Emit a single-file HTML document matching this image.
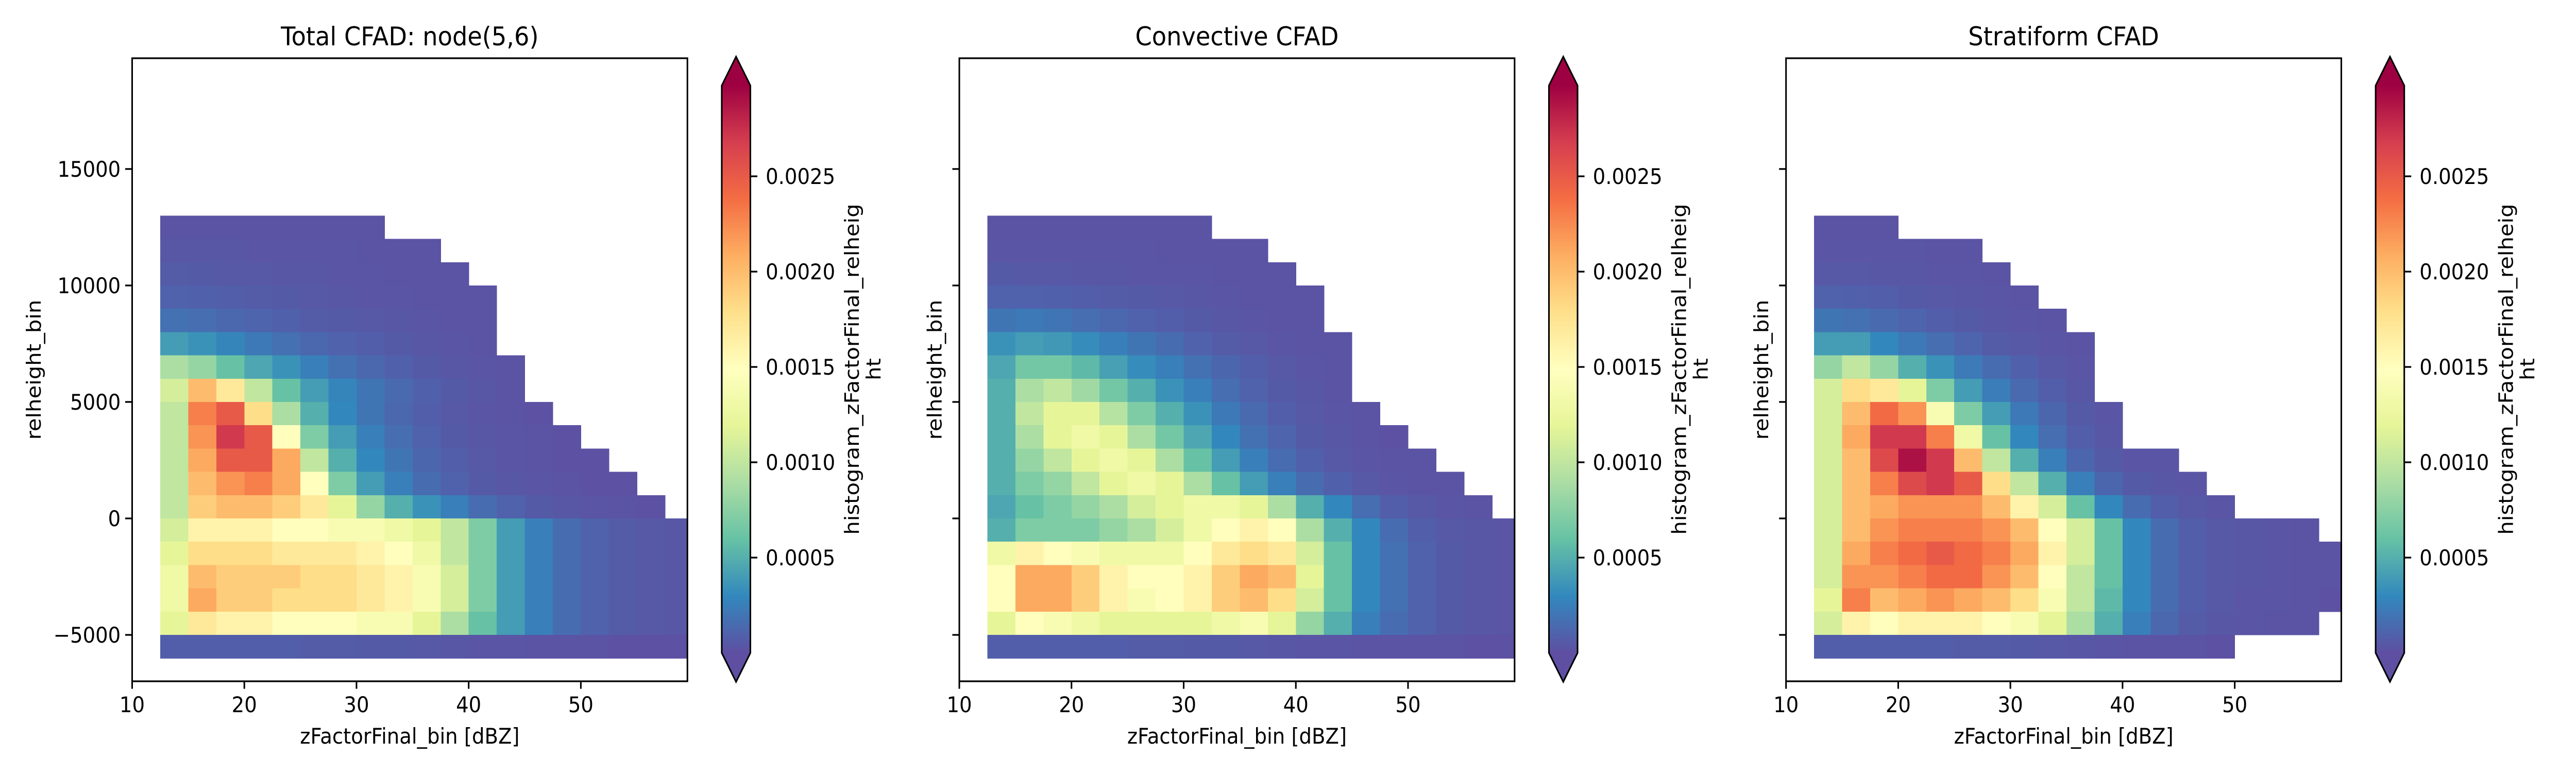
<!DOCTYPE html>
<html><head><meta charset="utf-8"><title>CFAD</title>
<style>
html,body{margin:0;padding:0;background:#fff;width:100%;height:100%;overflow:hidden;}
svg{display:block;overflow:hidden;width:100vw;height:100vh;font-family:"DejaVu Sans","Liberation Sans",sans-serif;}
</style></head>
<body>
<svg id="fig" viewBox="0 0 5400 1500" preserveAspectRatio="none" xmlns="http://www.w3.org/2000/svg">
<rect x="0" y="0" width="5400" height="1500" fill="#fff"/>
</svg>
<script>
// ---- data (values in units of 1e-4; -1 = no data) ----
const xEdgesStart = 10;      // dBZ, first bin left edge
const xBinWidth = 2.5;       // dBZ
const yTopBinBottom = 12000; // m, bottom of top row
const yBinHeight = 1000;     // m
const panelTitles = ["Total CFAD: node(5,6)", "Convective CFAD", "Stratiform CFAD"];
const xTickValues = [10, 20, 30, 40, 50];
const yTickValues = [-5000, 0, 5000, 10000, 15000];
const cbarTickValues = [0.0005, 0.0010, 0.0015, 0.0020, 0.0025];
const cbarTickLabels = ["0.0005", "0.0010", "0.0015", "0.0020", "0.0025"];

const totalGrid = [
[-1,.2,.2,.2,.2,.2,.2,.2,.2,-1,-1,-1,-1,-1,-1,-1,-1,-1,-1,-1],
[-1,.4,.4,.4,.3,.3,.3,.3,.2,.2,.2,-1,-1,-1,-1,-1,-1,-1,-1,-1],
[-1,.7,.6,.5,.5,.4,.4,.3,.3,.2,.2,.2,-1,-1,-1,-1,-1,-1,-1,-1],
[-1,1,.9,.8,.7,.6,.5,.4,.3,.3,.2,.2,.2,-1,-1,-1,-1,-1,-1,-1],
[-1,1.8,1.6,1.3,1.1,.9,.7,.6,.5,.4,.3,.2,.2,-1,-1,-1,-1,-1,-1,-1],
[-1,4,3.5,2.8,2.2,1.7,1.3,1,.8,.6,.4,.3,.2,-1,-1,-1,-1,-1,-1,-1],
[-1,9,8,6,4.5,3.5,2.5,1.8,1.3,.9,.6,.4,.3,.2,-1,-1,-1,-1,-1,-1],
[-1,11,20,17,10,6,4,2.8,2,1.4,.9,.6,.4,.2,-1,-1,-1,-1,-1,-1],
[-1,10,23,25,18,9,5,3,2,1.3,.8,.5,.3,.2,.1,-1,-1,-1,-1,-1],
[-1,10,22,27,25,15,7,4,2.5,1.6,1,.6,.4,.3,.2,.1,-1,-1,-1,-1],
[-1,10,21,25,25,21,10,5,3,2,1.2,.8,.5,.3,.2,.1,.1,-1,-1,-1],
[-1,10,20,22,23,21,15,7,4,2.5,1.5,1,.6,.4,.3,.2,.1,.1,-1,-1],
[-1,10,19,20,20,19,17,12,8,5,3.5,2.5,1.5,1,.6,.4,.3,.2,.1,-1],
[-1,11,16,16,16,15,15,14,14,13,12,10,7,4,2.5,1.5,1,.7,.5,.4],
[-1,12,18,18,18,17,17,17,16,15,13,10,7,4,2.5,1.5,1,.7,.5,.4],
[-1,13,20,19,19,19,18,18,17,16,14,11,7,4,2.5,1.5,1,.7,.5,.4],
[-1,13,21,19,19,18,18,18,17,16,14,11,7,4,2.5,1.5,1,.7,.5,.4],
[-1,12,17,16,16,15,15,15,14,14,12,9,6,4,2.5,1.5,1,.7,.5,.4],
[-1,.8,.8,.8,.8,.8,.7,.7,.6,.6,.5,.4,.3,.3,.2,.2,.2,.1,.1,.1]
];
const convectiveGrid = [
[-1,.2,.2,.2,.2,.2,.2,.2,.2,-1,-1,-1,-1,-1,-1,-1,-1,-1,-1,-1],
[-1,.3,.3,.3,.3,.3,.3,.2,.2,.2,.2,-1,-1,-1,-1,-1,-1,-1,-1,-1],
[-1,.6,.5,.5,.4,.4,.3,.3,.3,.2,.2,.2,-1,-1,-1,-1,-1,-1,-1,-1],
[-1,1,1,.9,.8,.7,.6,.5,.4,.3,.2,.2,.2,-1,-1,-1,-1,-1,-1,-1],
[-1,2,2.2,2,1.6,1.3,1,.8,.6,.4,.3,.2,.2,-1,-1,-1,-1,-1,-1,-1],
[-1,3.5,4,3.8,3.2,2.5,2,1.5,1,.7,.5,.3,.2,.2,-1,-1,-1,-1,-1,-1],
[-1,4.5,6.5,6.5,5.5,4.2,3.2,2.5,1.8,1.2,.8,.5,.3,.2,-1,-1,-1,-1,-1,-1],
[-1,5,9,10,8.5,6.5,5,3.5,2.5,1.6,1,.6,.4,.2,-1,-1,-1,-1,-1,-1],
[-1,5,10,12,12,9.5,7,5,3.5,2.2,1.4,.8,.5,.3,.2,-1,-1,-1,-1,-1],
[-1,5,9,12,13,12,9,6.5,4.5,3,1.8,1.1,.6,.4,.2,.1,-1,-1,-1,-1],
[-1,5,8,10,12,13,12,9,6,4,2.5,1.5,.9,.5,.3,.2,.2,-1,-1,-1],
[-1,5,7,8,10,12,13,12,9,6,4,2.5,1.5,.9,.5,.3,.2,.2,-1,-1],
[-1,4.5,6,7,8,9,11,12,13,13,12,9,5,3,1.6,.8,.5,.3,.2,-1],
[-1,5,7,7,7,8,9,11,13,15,16,15,9,5,3,1.5,.8,.5,.4,.3],
[-1,13,16,15,14,13,13,13,15,17,18,17,11,6,3,1.8,1,.6,.4,.3],
[-1,15,21,21,19,16,15,15,16,19,21,20,12,6,3,1.8,1,.6,.4,.3],
[-1,15,21,21,19,16,14,15,16,19,20,18,11,6,3,1.8,1,.6,.4,.3],
[-1,12,15,14,13,12,12,12,12,13,14,12,8,5,2.5,1.5,1,.6,.4,.3],
[-1,.8,.8,.8,.8,.8,.7,.7,.6,.6,.5,.4,.3,.3,.2,.2,.2,.2,.1,.1]
];
const stratiformGrid = [
[-1,.2,.2,.2,-1,-1,-1,-1,-1,-1,-1,-1,-1,-1,-1,-1,-1,-1,-1,-1],
[-1,.3,.3,.3,.3,.2,.2,-1,-1,-1,-1,-1,-1,-1,-1,-1,-1,-1,-1,-1],
[-1,.5,.5,.4,.4,.3,.3,.2,-1,-1,-1,-1,-1,-1,-1,-1,-1,-1,-1,-1],
[-1,1,.9,.8,.6,.5,.4,.3,.2,-1,-1,-1,-1,-1,-1,-1,-1,-1,-1,-1],
[-1,2,1.8,1.4,1.1,.8,.6,.4,.3,.2,-1,-1,-1,-1,-1,-1,-1,-1,-1,-1],
[-1,4,4,3,2.2,1.6,1.1,.7,.5,.3,.2,-1,-1,-1,-1,-1,-1,-1,-1,-1],
[-1,8,10,8,5,3.5,2.3,1.5,.9,.5,.3,-1,-1,-1,-1,-1,-1,-1,-1,-1],
[-1,11,18,17,12,7,4,2.4,1.4,.8,.4,-1,-1,-1,-1,-1,-1,-1,-1,-1],
[-1,11,20,24,22,14,7,4,2.2,1.2,.6,.3,-1,-1,-1,-1,-1,-1,-1,-1],
[-1,11,21,27,27,23,13,6,3,1.6,.8,.4,-1,-1,-1,-1,-1,-1,-1,-1],
[-1,11,20,26,29,27,20,10,5,2.5,1.2,.6,.3,.3,-1,-1,-1,-1,-1,-1],
[-1,11,20,23,26,27,25,18,10,5,2.5,1.2,.6,.4,.3,-1,-1,-1,-1,-1],
[-1,11,20,21,22,22,22,20,16,11,6,3,1.5,.8,.5,.3,-1,-1,-1,-1],
[-1,11,20,22,23,23,23,22,20,15,11,6,3,1.5,.8,.5,.4,.3,.2,-1],
[-1,11,21,23,24,25,24,23,21,16,11,6,3,1.5,.8,.5,.4,.3,.2,.2],
[-1,11,22,22,23,24,24,22,20,15,10,6,3,1.5,.8,.5,.4,.3,.2,.2],
[-1,12,23,20,21,22,21,20,18,14,10,5.5,3,1.5,.8,.5,.3,.3,.2,.1],
[-1,11,16,15,16,16,16,15,14,12,9,5,2.5,1.3,.7,.4,.3,.2,.2,-1],
[-1,.8,.8,.8,.8,.8,.7,.7,.6,.5,.4,.3,.2,.2,.2,.1,-1,-1,-1,-1]
];
const panelGrids = [totalGrid, convectiveGrid, stratiformGrid];

// ---- layout ----
const NS = "http://www.w3.org/2000/svg";
const svg = document.getElementById("fig");
const panelLefts = [277, 2011, 3744];
const axW = 1164, axTop = 113, axBottom = 1322;
const xMin = 10, xMax = 59.5, yMin = -6991, yMax = 19755;
const cbOff = 1236, cbW = 60, cbTop = 166, cbBot = 1267, cbTipTop = 110, cbTipBot = 1323;
const vMin = 0, vMax = 0.002976;
const spectral = ["#9e0142","#d53e4f","#f46d43","#fdae61","#fee08b","#ffffbf","#e6f598","#abdda4","#66c2a5","#3288bd","#5e4fa2"].reverse();

function hex(h){return [parseInt(h.substr(1,2),16),parseInt(h.substr(3,2),16),parseInt(h.substr(5,2),16)];}
function cmap(v){
  let t = (v - vMin) / (vMax - vMin); t = Math.max(0, Math.min(1, t));
  const p = t * 10, i = Math.min(9, Math.floor(p)), f = p - i;
  const a = hex(spectral[i]), b = hex(spectral[i+1]);
  return "rgb(" + a.map((c,k)=>Math.round(c + (b[k]-c)*f)).join(",") + ")";
}
function mk(tag, attrs, parent){
  const e = document.createElementNS(NS, tag);
  for (const k in attrs) e.setAttribute(k, attrs[k]);
  (parent || svg).appendChild(e);
  return e;
}
function yScale(v){ return axBottom - (v - yMin) / (yMax - yMin) * (axBottom - axTop); }

const defs = mk("defs", {});
const grad = mk("linearGradient", {id:"cbgrad", x1:"0", y1:"1", x2:"0", y2:"0"}, defs);
spectral.forEach((c,i)=>mk("stop", {offset:(i*10)+"%", "stop-color":c}, grad));

panelGrids.forEach((grid, p) => {
  const L = panelLefts[p];
  const xScale = v => L + (v - xMin) / (xMax - xMin) * axW;
  const g = mk("g", {});
  
  
  const clip = mk("clipPath", {id:"clip"+p}, defs);
  mk("rect", {x:L, y:axTop, width:axW, height:axBottom-axTop}, clip);
  const cells = mk("g", {"clip-path":"url(#clip"+p+")", "shape-rendering":"crispEdges"}, g);
  
  
  grid.forEach((row, r) => {
    const yb = yTopBinBottom - r * yBinHeight;
    row.forEach((val, c) => {
      if (val < 0) return;
      const x0 = xEdgesStart + c * xBinWidth;
      const px0 = xScale(x0), px1 = Math.min(xScale(x0 + xBinWidth), L + axW);
      const py0 = yScale(yb + yBinHeight), py1 = yScale(yb);
      const rc = mk("rect", {x:px0.toFixed(1), y:py0.toFixed(1), width:(px1-px0+0.6).toFixed(1), height:(py1-py0+0.6).toFixed(1), fill:cmap(val*1e-4)}, cells);
      
      
    });
  });
  const fr = mk("rect", {x:L, y:axTop, width:axW, height:axBottom-axTop, fill:"none", stroke:"#000", "stroke-width":3.3}, g);
  
  
  const tt = mk("text", {x:L+axW/2, y:88, "text-anchor":"middle", "font-size":50}, g);
  tt.textContent = panelTitles[p];
  
  
  xTickValues.forEach(v => {
    const x = xScale(v);
    const tk = mk("line", {x1:x, x2:x, y1:axBottom, y2:axBottom+14.6, stroke:"#000", "stroke-width":3.3}, g);
    
    
    const tl = mk("text", {x:x, y:1382, "text-anchor":"middle", "font-size":41.7}, g);
    tl.textContent = v;
    
    
  });
  const xl = mk("text", {x:L+axW/2, y:1443, "text-anchor":"middle", "font-size":41.7}, g);
  xl.textContent = "zFactorFinal_bin [dBZ]";
  
  
  yTickValues.forEach(v => {
    const y = yScale(v);
    const tk = mk("line", {x1:L-14.6, x2:L, y1:y, y2:y, stroke:"#000", "stroke-width":3.3}, g);
    
    
    if (p === 0) {
      const tl = mk("text", {x:L-24, y:y+15, "text-anchor":"end", "font-size":41.7}, g);
      tl.textContent = v < 0 ? "\u2212" + Math.abs(v) : String(v);
      
      
    }
  });
  const ylx = p === 0 ? L - 205 : L - 51;
  const yl = mk("text", {x:0, y:0, "text-anchor":"middle", "dominant-baseline":"central", "font-size":41.7, transform:"translate("+ylx+","+((axTop+axBottom)/2)+") rotate(-90)"}, g);
  yl.textContent = "relheight_bin";
  
  
  const cx = L + cbOff;
  const cb = mk("g", {}, g);
  
  
  mk("rect", {x:cx, y:cbTop, width:cbW, height:cbBot-cbTop, fill:"url(#cbgrad)"}, cb);
  mk("polygon", {points:cx+","+cbTop+" "+(cx+cbW/2)+","+cbTipTop+" "+(cx+cbW)+","+cbTop, fill:"#9e0142"}, cb);
  mk("polygon", {points:cx+","+cbBot+" "+(cx+cbW/2)+","+cbTipBot+" "+(cx+cbW)+","+cbBot, fill:"#5e4fa2"}, cb);
  mk("polygon", {points:cx+","+cbTop+" "+(cx+cbW/2)+","+cbTipTop+" "+(cx+cbW)+","+cbTop+" "+(cx+cbW)+","+cbBot+" "+(cx+cbW/2)+","+cbTipBot+" "+cx+","+cbBot, fill:"none", stroke:"#000", "stroke-width":3.3}, cb);
  const cbY = v => cbBot - (v - vMin) / (vMax - vMin) * (cbBot - cbTop);
  cbarTickValues.forEach((v,i) => {
    const y = cbY(v);
    const tk = mk("line", {x1:cx+cbW, x2:cx+cbW+14.6, y1:y, y2:y, stroke:"#000", "stroke-width":3.3}, cb);
    
    
    const tl = mk("text", {x:cx+cbW+32, y:y+15, "font-size":41.7}, cb);
    tl.textContent = cbarTickLabels[i];
    
    
  });
  const midY = (cbTop + cbBot) / 2;
  const c1 = mk("text", {x:0, y:0, "text-anchor":"middle", "dominant-baseline":"central", "font-size":41.7, transform:"translate("+(cx+274)+","+midY+") rotate(-90)"}, cb);
  c1.textContent = "histogram_zFactorFinal_relheig";
  
  
  const c2 = mk("text", {x:0, y:0, "text-anchor":"middle", "dominant-baseline":"central", "font-size":41.7, transform:"translate("+(cx+319)+","+midY+") rotate(-90)"}, cb);
  c2.textContent = "ht";
  
  
});
</script>
</body></html>
